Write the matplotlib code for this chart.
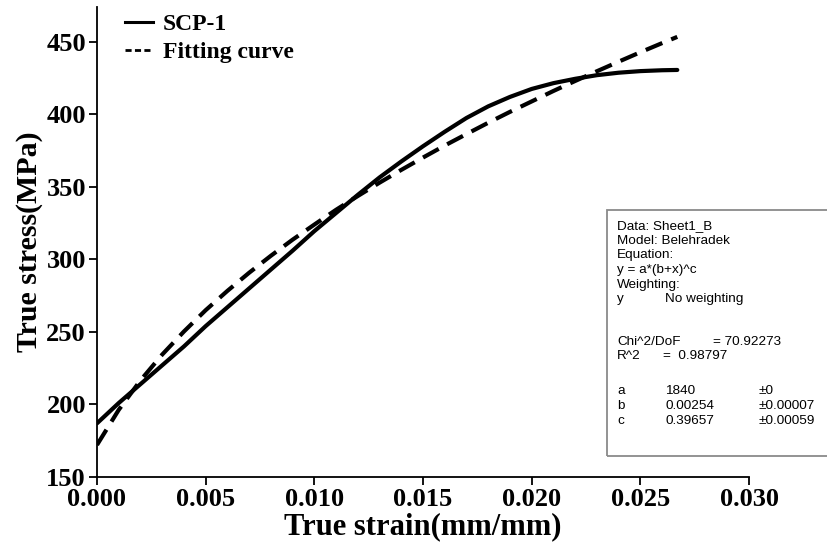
import matplotlib.pyplot as plt
from matplotlib.lines import Line2D
from matplotlib.patches import Rectangle

# strain (mm/mm) and stress (MPa)
strain = [0.000, 0.001, 0.002, 0.003, 0.004, 0.005, 0.006, 0.007, 0.008, 0.009,
          0.010, 0.011, 0.012, 0.013, 0.014, 0.015, 0.016, 0.017, 0.018, 0.019,
          0.020, 0.021, 0.022, 0.023, 0.024, 0.025, 0.026, 0.0267]
scp1 = [187, 201, 214, 227, 240, 254, 267, 280, 293, 306,
        319.5, 332, 344.5, 356.5, 367.5, 378, 388, 397.5, 405.5, 412,
        417.5, 421.5, 424.5, 427, 428.7, 429.8, 430.4, 430.6]
fit = [172.1, 196.3, 216.6, 234.4, 250.3, 265.0, 278.3, 290.8, 302.5, 313.6,
       324.0, 334.2, 343.7, 352.9, 361.7, 370.2, 378.5, 386.4, 394.2, 401.7,
       408.9, 416.1, 423.0, 429.7, 436.3, 442.8, 449.1, 453.4]

xticks = [0.000, 0.005, 0.010, 0.015, 0.020, 0.025, 0.030]
yticks = [150, 200, 250, 300, 350, 400, 450]

W, H = 827, 550
fig = plt.figure(figsize=(W / 100, H / 100), dpi=100)
ax = fig.add_axes([97 / W, 73 / H, (749 - 97) / W, (477 - 7) / H])

serif = 'Liberation Serif'
ax.plot(strain, scp1, color='black', lw=3.0, solid_capstyle='round', solid_joinstyle='round')
ax.plot(strain, fit, color='black', lw=3.0, dashes=(4.3, 2.3))

ax.set_xlim(0, 0.030)
ax.set_ylim(150, 474)
ax.set_xticks(xticks)
ax.set_xticklabels(['%.3f' % t for t in xticks])
ax.set_yticks(yticks)
for s in ['top', 'right']:
    ax.spines[s].set_visible(False)
for s in ['left', 'bottom']:
    ax.spines[s].set_linewidth(1.3)
ax.tick_params(direction='out', length=6, width=1.3, pad=2)
for lab in ax.get_xticklabels() + ax.get_yticklabels():
    lab.set_fontfamily(serif)
    lab.set_fontweight('bold')
    lab.set_fontsize(19)

ax.set_xlabel('True strain(mm/mm)', fontfamily=serif, fontweight='bold', fontsize=22, labelpad=1)
ax.set_ylabel('True stress(MPa)', fontfamily=serif, fontweight='bold', fontsize=21.5, labelpad=2)

handles = [Line2D([], [], color='black', lw=2.2),
           Line2D([], [], color='black', lw=2.0, dashes=(2.2, 1.2))]
ax.legend(handles, ['SCP-1', 'Fitting curve'], loc='upper left',
          bbox_to_anchor=(113 / W, 1 - 2 / H), bbox_transform=fig.transFigure,
          frameon=False, borderpad=0, handlelength=1.19, handletextpad=0.42,
          labelspacing=0.28, prop={'family': serif, 'weight': 'bold', 'size': 17})

# fit report box
fig.patches.append(Rectangle((607 / W, 1 - 456 / H), (W - 607 + 5) / W, (456 - 210) / H,
                             transform=fig.transFigure, fill=False,
                             edgecolor='#8a8a8a', lw=1.3, clip_on=False))
fkw = dict(fontfamily='Liberation Sans', fontsize=9.7, color='black', va='center')
def t(x, y, s):
    fig.text(x / W, 1 - y / H, s, **fkw)

t(617, 226, 'Data: Sheet1_B')
t(617, 241, 'Model: Belehradek')
t(617, 255, 'Equation:')
t(617, 270, 'y = a*(b+x)^c')
t(617, 285, 'Weighting:')
t(617, 299, 'y')
t(665, 299, 'No weighting')
t(617, 342, 'Chi^2/DoF')
t(713, 342, '= 70.92273')
t(617, 356, 'R^2')
t(663, 356, '=  0.98797')
t(617, 391, 'a')
t(665, 391, '1840')
t(759, 391, '\u00b10')
t(617, 406, 'b')
t(665, 406, '0.00254')
t(759, 406, '\u00b10.00007')
t(617, 421, 'c')
t(665, 421, '0.39657')
t(759, 421, '\u00b10.00059')

fig.savefig('out.png', dpi=100)
